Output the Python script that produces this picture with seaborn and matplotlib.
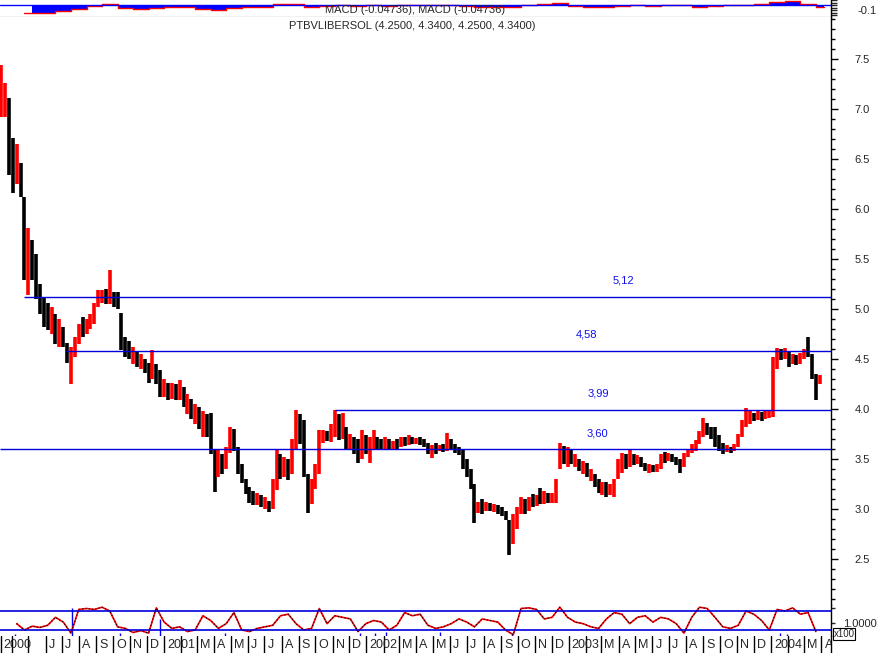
import numpy as np
import pandas as pd
import matplotlib
matplotlib.use('Agg')
import matplotlib.pyplot as plt
from matplotlib.ticker import FormatStrFormatter
import seaborn as sns

# weekly bars, first week starting 2000-03-13
start_date = '2000-03-13'
high = [7.44, 7.26, 7.11, 6.71, 6.65, 6.46, 6.12, 5.81, 5.69, 5.55,
        5.25, 5.12, 5.06, 5.02, 4.95, 4.90, 4.82, 4.66, 4.62, 4.72,
        4.85, 4.92, 4.90, 4.95, 5.06, 5.19, 5.19, 5.20, 5.39, 5.17,
        5.17, 4.96, 4.72, 4.68, 4.62, 4.58, 4.55, 4.50, 4.46, 4.59,
        4.45, 4.39, 4.30, 4.26, 4.26, 4.25, 4.29, 4.22, 4.15, 4.10,
        4.05, 4.02, 3.98, 3.95, 3.96, 3.60, 3.59, 3.55, 3.62, 3.82,
        3.80, 3.62, 3.45, 3.30, 3.22, 3.18, 3.16, 3.14, 3.12, 3.08,
        3.30, 3.59, 3.55, 3.52, 3.50, 3.70, 3.99, 3.95, 3.89, 3.35,
        3.30, 3.45, 3.79, 3.79, 3.78, 3.85, 3.99, 3.95, 3.96, 3.82,
        3.75, 3.72, 3.70, 3.79, 3.74, 3.72, 3.79, 3.72, 3.70, 3.72,
        3.70, 3.68, 3.70, 3.72, 3.72, 3.74, 3.72, 3.71, 3.72, 3.70,
        3.66, 3.64, 3.66, 3.64, 3.65, 3.76, 3.70, 3.65, 3.62, 3.59,
        3.50, 3.40, 3.25, 3.07, 3.10, 3.07, 3.06, 3.05, 3.04, 3.02,
        2.98, 2.89, 2.95, 3.02, 3.12, 3.10, 3.12, 3.15, 3.14, 3.21,
        3.18, 3.16, 3.16, 3.30, 3.66, 3.63, 3.62, 3.59, 3.55, 3.50,
        3.48, 3.46, 3.40, 3.35, 3.30, 3.27, 3.27, 3.25, 3.30, 3.50,
        3.56, 3.55, 3.59, 3.55, 3.54, 3.52, 3.46, 3.45, 3.44, 3.45,
        3.55, 3.57, 3.56, 3.55, 3.52, 3.50, 3.56, 3.60, 3.65, 3.69,
        3.78, 3.91, 3.86, 3.82, 3.82, 3.74, 3.66, 3.64, 3.62, 3.65,
        3.75, 3.89, 4.01, 3.98, 3.96, 3.98, 3.97, 3.98, 3.99, 4.52,
        4.61, 4.60, 4.61, 4.58, 4.55, 4.54, 4.56, 4.60, 4.72, 4.55,
        4.35, 4.34]
low = [6.92, 6.92, 6.34, 6.16, 6.25, 6.12, 5.29, 5.14, 5.29, 5.10,
       4.95, 4.82, 4.79, 4.75, 4.65, 4.62, 4.62, 4.46, 4.25, 4.52,
       4.65, 4.72, 4.75, 4.80, 4.85, 5.02, 5.06, 5.05, 5.05, 5.02,
       5.00, 4.59, 4.52, 4.50, 4.45, 4.42, 4.40, 4.36, 4.26, 4.30,
       4.25, 4.12, 4.12, 4.09, 4.10, 4.09, 4.09, 4.02, 3.95, 3.90,
       3.85, 3.80, 3.72, 3.72, 3.55, 3.17, 3.32, 3.35, 3.40, 3.56,
       3.58, 3.35, 3.26, 3.15, 3.06, 3.04, 3.04, 3.02, 3.00, 2.97,
       3.00, 3.19, 3.30, 3.32, 3.29, 3.35, 3.59, 3.65, 3.32, 2.96,
       3.05, 3.20, 3.35, 3.66, 3.68, 3.67, 3.72, 3.69, 3.70, 3.59,
       3.60, 3.55, 3.46, 3.50, 3.55, 3.46, 3.60, 3.59, 3.59, 3.60,
       3.59, 3.60, 3.60, 3.62, 3.63, 3.64, 3.65, 3.65, 3.64, 3.62,
       3.55, 3.51, 3.55, 3.58, 3.57, 3.58, 3.60, 3.56, 3.54, 3.40,
       3.32, 3.20, 2.86, 2.96, 2.95, 2.98, 2.98, 2.97, 2.95, 2.93,
       2.89, 2.54, 2.65, 2.80, 2.95, 2.95, 2.98, 3.02, 3.03, 3.05,
       3.05, 3.06, 3.06, 3.06, 3.40, 3.45, 3.42, 3.45, 3.42, 3.38,
       3.35, 3.32, 3.28, 3.22, 3.16, 3.14, 3.12, 3.14, 3.12, 3.30,
       3.36, 3.40, 3.42, 3.44, 3.45, 3.42, 3.38, 3.36, 3.37, 3.37,
       3.40, 3.46, 3.48, 3.47, 3.44, 3.36, 3.42, 3.52, 3.56, 3.58,
       3.65, 3.72, 3.74, 3.70, 3.62, 3.58, 3.55, 3.57, 3.56, 3.58,
       3.62, 3.72, 3.82, 3.85, 3.88, 3.89, 3.88, 3.90, 3.91, 3.92,
       4.40, 4.49, 4.50, 4.42, 4.45, 4.44, 4.45, 4.50, 4.52, 4.30,
       4.09, 4.25]
close = [7.05, 7.10, 6.80, 6.30, 6.55, 6.20, 5.60, 5.70, 5.40, 5.20,
         5.05, 5.00, 4.85, 4.95, 4.70, 4.80, 4.68, 4.55, 4.60, 4.65,
         4.82, 4.78, 4.86, 4.88, 5.04, 5.10, 5.12, 5.08, 5.15, 5.10,
         5.05, 4.65, 4.60, 4.55, 4.58, 4.48, 4.50, 4.40, 4.30, 4.45,
         4.30, 4.20, 4.25, 4.15, 4.22, 4.12, 4.24, 4.08, 4.10, 3.95,
         4.00, 3.88, 3.92, 3.80, 3.60, 3.35, 3.50, 3.40, 3.58, 3.75,
         3.65, 3.45, 3.30, 3.20, 3.15, 3.08, 3.12, 3.05, 3.08, 3.00,
         3.25, 3.50, 3.38, 3.45, 3.35, 3.65, 3.85, 3.80, 3.40, 3.10,
         3.22, 3.40, 3.70, 3.72, 3.70, 3.80, 3.90, 3.75, 3.85, 3.65,
         3.70, 3.60, 3.55, 3.70, 3.62, 3.65, 3.70, 3.64, 3.62, 3.68,
         3.63, 3.66, 3.64, 3.70, 3.67, 3.71, 3.68, 3.69, 3.66, 3.64,
         3.58, 3.60, 3.57, 3.62, 3.60, 3.70, 3.65, 3.60, 3.56, 3.45,
         3.36, 3.25, 3.00, 3.04, 3.00, 3.05, 3.01, 3.03, 2.98, 2.96,
         2.92, 2.70, 2.90, 2.95, 3.08, 3.00, 3.10, 3.06, 3.12, 3.08,
         3.15, 3.10, 3.14, 3.25, 3.58, 3.50, 3.55, 3.48, 3.50, 3.42,
         3.44, 3.36, 3.38, 3.26, 3.20, 3.24, 3.16, 3.22, 3.28, 3.45,
         3.50, 3.44, 3.55, 3.48, 3.50, 3.45, 3.40, 3.42, 3.39, 3.43,
         3.52, 3.50, 3.54, 3.49, 3.47, 3.45, 3.54, 3.58, 3.62, 3.66,
         3.76, 3.80, 3.78, 3.74, 3.66, 3.62, 3.58, 3.62, 3.59, 3.63,
         3.72, 3.86, 3.90, 3.92, 3.90, 3.94, 3.91, 3.95, 3.97, 4.45,
         4.55, 4.53, 4.56, 4.50, 4.52, 4.48, 4.53, 4.58, 4.55, 4.35,
         4.25, 4.34]

# support / resistance lines (price, first week they are drawn from)
levels = [5.12, 4.58, 3.99, 3.60]
level_from = [5.9, 16.8, 86.1, -1.0]

# MACD histogram, one value every 4 weeks
macd = [np.nan, np.nan, -0.16, -0.15, -0.12, -0.08, -0.02, 0.03, -0.06, -0.08,
        -0.05, -0.04, -0.03, -0.08, -0.10, -0.05, -0.04, -0.04, 0.02, 0.03,
        -0.03, -0.02, 0.01, -0.01, 0.005, -0.01, 0.005, 0.005, -0.005, 0.01,
        -0.01, -0.04, -0.03, -0.04, 0.01, 0.02, 0.04, -0.01, -0.03, -0.04,
        -0.01, 0.01, -0.02, 0.0, 0.01, -0.03, -0.02, 0.01, 0.0, 0.02,
        0.06, 0.07, 0.02, -0.03]

# oscillator (x100), one value every 2 weeks
osc = [np.nan, np.nan, 40, 20, 32, 28, 35, 60, 45, 10,
       85, 88, 85, 92, 80, 30, 25, 12, 18, 10,
       90, 45, 25, 30, 15, 20, 65, 50, 25, 40,
       75, 20, 15, 25, 30, 35, 65, 70, 40, 20,
       25, 88, 40, 65, 60, 55, 15, 40, 50, 45,
       20, 35, 75, 65, 70, 35, 25, 30, 40, 55,
       45, 30, 55, 50, 45, 20, 5, 88, 90, 85,
       55, 60, 92, 60, 45, 40, 30, 25, 55, 75,
       70, 40, 60, 65, 45, 60, 55, 40, 10, 60,
       92, 88, 60, 30, 25, 35, 80, 70, 50, 20,
       85, 80, 90, 70, 75, 15]
vol_week = [3.6, 18.3, 30.7, 41.0, 57.7, 92.5, 96.4, 99.2, 113.0, 131.7, 200.8, 202.6]
vol_val = [8, 90, 10, 55, 12, 12, 10, 14, 15, 12, 10, 8]

start = pd.Timestamp(start_date)
df = pd.DataFrame({'high': high, 'low': low, 'close': close})
df['week'] = np.arange(len(df))
df['up'] = df['close'].diff().fillna(0) >= 0

sns.set_style('white')
plt.rcParams['font.family'] = ['Liberation Sans', 'DejaVu Sans']
plt.rcParams['font.size'] = 8

W, H = 877, 653
AX_RIGHT = 831
fig = plt.figure(figsize=(W / 100, H / 100), dpi=100)


def frame(y0, y1):
    return [0, 1 - y1 / H, AX_RIGHT / W, (y1 - y0) / H]


ax_macd = fig.add_axes(frame(0, 17))
ax = fig.add_axes(frame(17, 604.7))
ax_osc = fig.add_axes(frame(604.7, 636.3))
ax_dates = fig.add_axes(frame(636.3, 653))
xlim = (-0.3, 213.9)

blue = '#0000dd'

for a in (ax_macd, ax, ax_osc, ax_dates):
    a.set_xlim(*xlim)
    a.set_facecolor('white')
    for s in ('top', 'left', 'bottom'):
        a.spines[s].set_visible(False)
    a.spines['right'].set_color('black')
    a.spines['right'].set_linewidth(1)
    a.set_xticks([])
    a.yaxis.tick_right()

# ---- main price panel
colors = np.where(df['up'], '#ff0000', '#000000')
ax.vlines(df['week'], df['low'], df['high'], colors=colors, linewidth=2.6)
for lv, x0 in zip(levels, level_from):
    ax.hlines(lv, max(x0, xlim[0]), xlim[1], color=blue, linewidth=1)

label_x = [160.3, 150.8, 153.9, 153.6]
for lv, lx in zip(levels, label_x):
    ax.text(lx, lv + 0.16, f'{lv:.2f}'.replace('.', ','), color='#1010ee',
            ha='center', va='center', fontsize=8)

ax.set_ylim(2.043, 7.92)
ax.set_yticks(np.arange(2.5, 7.51, 0.5))
ax.set_yticks(np.arange(2.1, 7.91, 0.1), minor=True)
ax.yaxis.set_major_formatter(FormatStrFormatter('%.1f'))
ax.tick_params(axis='y', which='major', length=5, width=1, pad=12, labelsize=8,
               direction='out', color='black')
ax.tick_params(axis='y', which='minor', length=3, width=1, direction='out', color='black')
ax.text(0.496, 0.985, 'PTBVLIBERSOL (4.2500, 4.3400, 4.2500, 4.3400)',
        transform=ax.transAxes, ha='center', va='center', fontsize=8)

# ---- MACD panel
macd_x = np.arange(len(macd)) * 4
ax_macd.fill_between(macd_x, 0, macd, color='#0000ff', step='mid', linewidth=0)
ax_macd.plot(macd_x, macd, color='#ff0000', linewidth=1, drawstyle='steps-mid')
ax_macd.axhline(0, color='#0000ff', linewidth=1)
ax_macd.set_ylim(-0.24, 0.10)
ax_macd.spines['bottom'].set_visible(True)
ax_macd.spines['bottom'].set_color('black')
ax_macd.set_yticks([-0.1])
ax_macd.set_yticklabels(['-0.1'])
ax_macd.set_yticks(np.arange(-0.2, 0.11, 0.05), minor=True)
ax_macd.tick_params(axis='y', which='major', length=4, width=1, pad=15, labelsize=8)
ax_macd.tick_params(axis='y', which='minor', length=4, width=1)
ax_macd.text(0.5, 0.42, 'MACD (-0.04736), MACD (-0.04736)', transform=ax_macd.transAxes,
             ha='center', va='center', fontsize=8)

# ---- oscillator panel
osc_x = np.arange(len(osc)) * 2
ax_osc.vlines(vol_week, 0, vol_val, color='#0000ff', linewidth=1)
sns.lineplot(x=osc_x, y=osc, ax=ax_osc, color='#ff0000', linewidth=1.2)
ax_osc.plot(osc_x, osc, color='black', linewidth=0.8, linestyle=(0, (1, 2)))
ax_osc.axhline(80, color=blue, linewidth=1.2)
ax_osc.axhline(20, color=blue, linewidth=1.2)
ax_osc.set_ylim(0, 100)
ax_osc.set_ylabel('')
ax_osc.set_yticks([42])
ax_osc.set_yticklabels(['1.0000'])
ax_osc.set_yticks([90], minor=True)
ax_osc.tick_params(axis='y', which='both', length=3, width=1, pad=6, labelsize=8)
ax_osc.text(1.003, 0.08, 'x100', transform=ax_osc.transAxes, ha='left', va='center',
            fontsize=7, clip_on=False,
            bbox=dict(boxstyle='square,pad=0.1', fc='white', ec='black', lw=0.8))

# ---- month strip
months = pd.date_range('2000-04-01', '2004-04-01', freq='MS')
letters = 'JFMAMJJASOND'
ax_dates.set_ylim(0, 1)
ax_dates.set_yticks([])
ax_dates.axvline(0, color='black', linewidth=1)
ax_dates.text(0.5, 0.45, '2000', ha='left', va='center', fontsize=9, clip_on=True)
for m in months:
    pos = (m - start).days / 7
    ax_dates.axvline(pos, color='black', linewidth=1)
    if m.month == 1:
        lab = str(m.year)
    elif m.month == 2 or (m.year == 2000 and m.month in (4, 5)):
        lab = ''
    else:
        lab = letters[m.month - 1]
    if lab:
        ax_dates.text(pos + 0.8, 0.45, lab, ha='left', va='center', fontsize=9, clip_on=True)

fig.savefig('out.png', dpi=100)
